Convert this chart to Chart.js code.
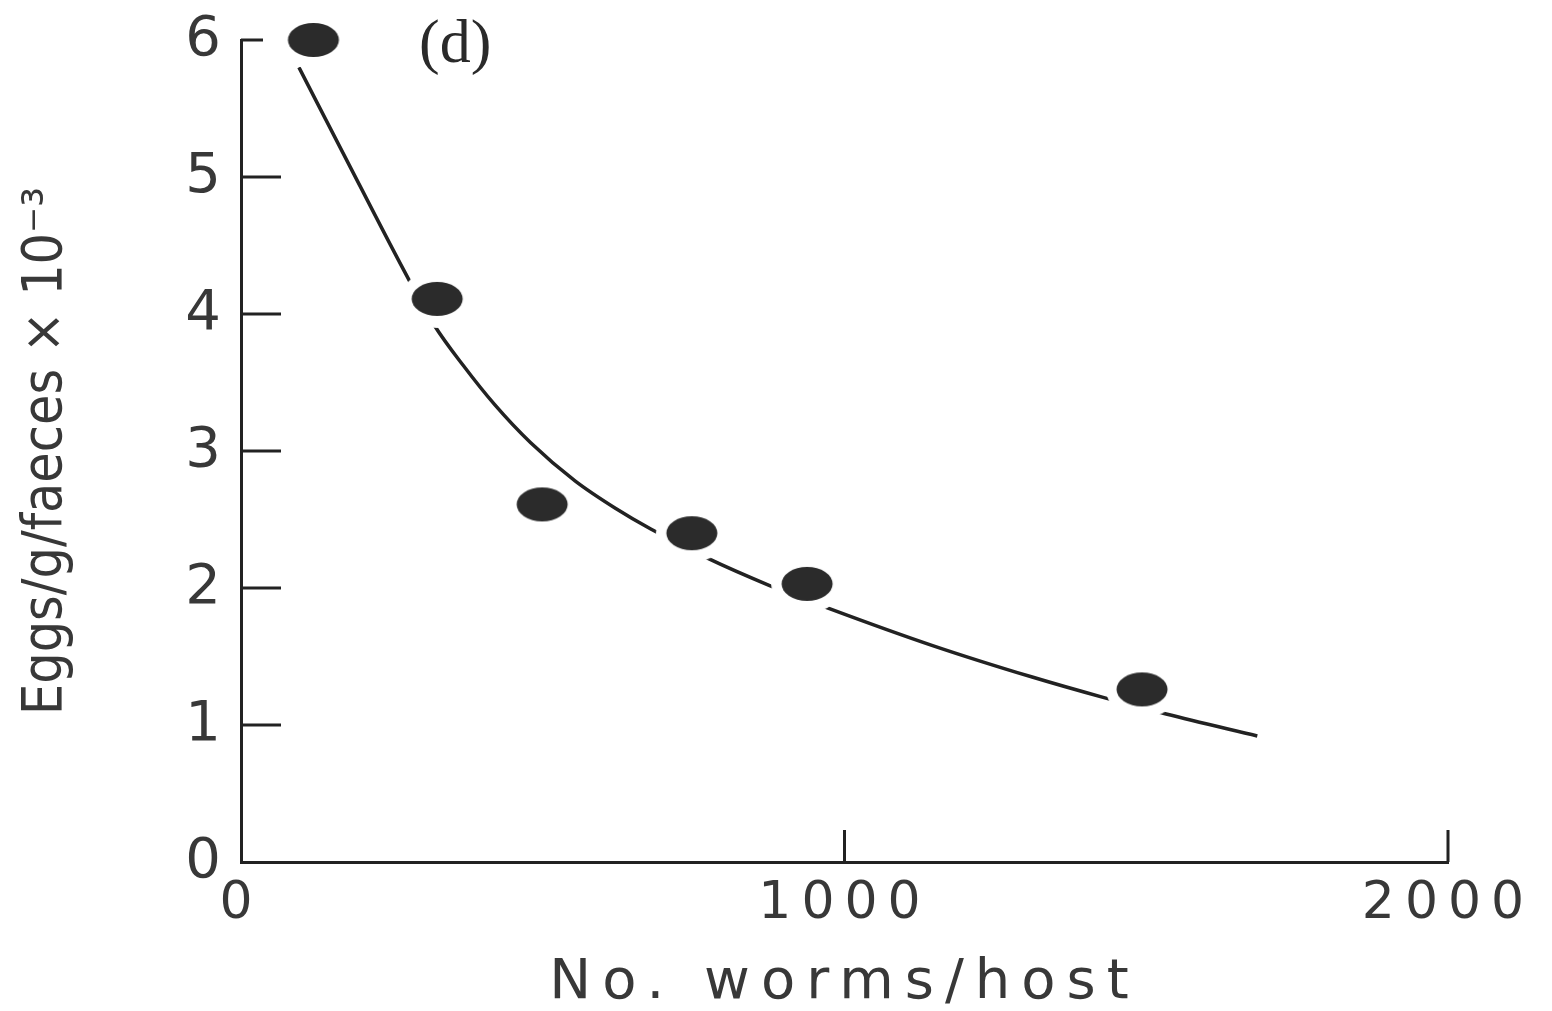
<!DOCTYPE html>
<html>
<head>
<meta charset="utf-8">
<script src="https://cdn.jsdelivr.net/npm/chart.js@4.4.1/dist/chart.umd.min.js"></script>
<style>
  html, body { margin: 0; padding: 0; background: #ffffff; }
  #c { display: block; }
</style>
</head>
<body>
<canvas id="c" width="1552" height="1011"></canvas>
<script>
// ---- data ----
const wormsPerHost = [120, 325, 499, 747, 938, 1493];
const eggsPerGram  = [6.00, 4.11, 2.61, 2.40, 2.03, 1.26];

const fitWorms = [96, 186, 277, 320, 369, 420, 480, 554, 621, 679, 772, 875, 975, 1146, 1311, 1430, 1533, 1684];
const fitEggs  = [5.80, 5.03, 4.26, 3.92, 3.62, 3.34, 3.06, 2.78, 2.58, 2.43, 2.22, 2.02, 1.85, 1.58, 1.35, 1.20, 1.08, 0.92];

const xTickValues = [0, 1000, 2000];
const yTickValues = [0, 1, 2, 3, 4, 5, 6];
const xInnerTicks = [1000, 2000];
const yInnerTicks = [1, 2, 3, 4, 5];
const xTitle = 'No. worms/host';
const yTitle = 'Eggs/g/faeces \u00d7 10\u207b\u00b3';
const panelLabel = '(d)';
const panelLabelAt = [355, 6];

// ---- styling ----
const INK = '#222222';
const TEXT = '#383838';
const SANS = "'DejaVu Sans', 'Liberation Sans', sans-serif";
const NARROW = "'Liberation Sans Narrow', 'DejaVu Sans Condensed', 'Liberation Sans', sans-serif";

// filled dot with a white halo that breaks the fitted curve, as in the print
const dot = (() => {
  const c = document.createElement('canvas');
  c.width = 76; c.height = 62;
  const g = c.getContext('2d');
  g.fillStyle = '#ffffff';
  g.beginPath(); g.ellipse(38, 31, 36, 29, 0, 0, Math.PI * 2); g.fill();
  g.fillStyle = '#2b2b2b';
  g.beginPath(); g.ellipse(38, 31, 25.5, 17, 0, 0, Math.PI * 2); g.fill();
  return c;
})();

const innerTicks = {
  id: 'innerTicks',
  beforeDatasetsDraw(chart) {
    const { ctx, scales: { x, y } } = chart;
    ctx.save();
    ctx.strokeStyle = INK;
    ctx.lineWidth = 3;
    ctx.lineCap = 'butt';
    ctx.beginPath();
    yInnerTicks.forEach(v => {
      const py = y.getPixelForValue(v);
      ctx.moveTo(x.left, py); ctx.lineTo(x.left + 40, py);
    });
    const pTop = y.getPixelForValue(6);
    ctx.moveTo(x.left, pTop); ctx.lineTo(x.left + 22, pTop);
    xInnerTicks.forEach(v => {
      const px = x.getPixelForValue(v);
      ctx.moveTo(px, y.bottom); ctx.lineTo(px, y.bottom - 32);
    });
    ctx.stroke();
    ctx.restore();
  },
  afterDatasetsDraw(chart) {
    const { ctx, scales: { x, y } } = chart;
    ctx.save();
    ctx.fillStyle = '#2a2a2a';
    ctx.font = "62px 'Liberation Serif', 'DejaVu Serif', serif";
    ctx.textAlign = 'center';
    ctx.textBaseline = 'middle';
    ctx.fillText(panelLabel, x.getPixelForValue(panelLabelAt[0]), y.getPixelForValue(panelLabelAt[1]) + 6);
    ctx.restore();
  }
};

// wider letter spacing for the x axis text only (the print uses a very wide face)
const wideX = {
  id: 'wideX',
  beforeDraw(chart) {
    const xs = chart.scales.x;
    if (xs && !xs.__wide) {
      const dl = xs.drawLabels, dt = xs.drawTitle;
      xs.drawLabels = function (ca) { const c = this.ctx; const p = c.letterSpacing; c.letterSpacing = '10px'; dl.call(this, ca); c.letterSpacing = p; };
      xs.drawTitle = function () { const c = this.ctx; const p = c.letterSpacing; c.letterSpacing = '11px'; dt.call(this); c.letterSpacing = p; };
      xs.__wide = true;
    }
  }
};

new Chart(document.getElementById('c'), {
  type: 'scatter',
  data: {
    datasets: [
      {
        label: 'observed',
        data: wormsPerHost.map((v, i) => ({ x: v, y: eggsPerGram[i] })),
        pointStyle: dot,
        pointRadius: 20,
        showLine: false,
        clip: false
      },
      {
        label: 'fit',
        data: fitWorms.map((v, i) => ({ x: v, y: fitEggs[i] })),
        showLine: true,
        pointRadius: 0,
        borderColor: INK,
        borderWidth: 3.5,
        cubicInterpolationMode: 'monotone',
        fill: false,
        clip: false
      }
    ]
  },
  options: {
    responsive: false,
    animation: false,
    layout: { padding: { left: 10, right: 104, top: 40, bottom: 0 } },
    plugins: { legend: { display: false }, tooltip: { enabled: false } },
    scales: {
      x: {
        type: 'linear',
        min: 0, max: 2000,
        afterBuildTicks: s => { s.ticks = xTickValues.map(v => ({ value: v })); },
        afterFit: s => { s.height = 149; s.paddingLeft = 0; s.paddingRight = 0; },
        grid: { display: false, drawTicks: false },
        border: { display: true, color: INK, width: 3 },
        ticks: { padding: 16, color: TEXT, maxRotation: 0, callback: v => String(v),
                 font: { family: SANS, size: 52, lineHeight: 1.0 } },
        title: { display: true, text: xTitle, color: TEXT, padding: { top: 0, bottom: 0 },
                 font: { family: SANS, size: 56, lineHeight: 1.0 } }
      },
      y: {
        type: 'linear',
        min: 0, max: 6,
        afterBuildTicks: s => { s.ticks = yTickValues.map(v => ({ value: v })); },
        afterFit: s => { s.width = 231; s.paddingTop = 0; s.paddingBottom = 0; },
        grid: { display: false, drawTicks: false },
        border: { display: true, color: INK, width: 3 },
        ticks: { padding: 20, color: TEXT, callback: v => String(v), font: { family: SANS, size: 56 } },
        title: { display: true, text: yTitle, color: TEXT, padding: { top: 4, bottom: 0 },
                 font: { family: NARROW, size: 55, lineHeight: 1.2 } }
      }
    }
  },
  plugins: [innerTicks, wideX]
});
</script>
</body>
</html>
